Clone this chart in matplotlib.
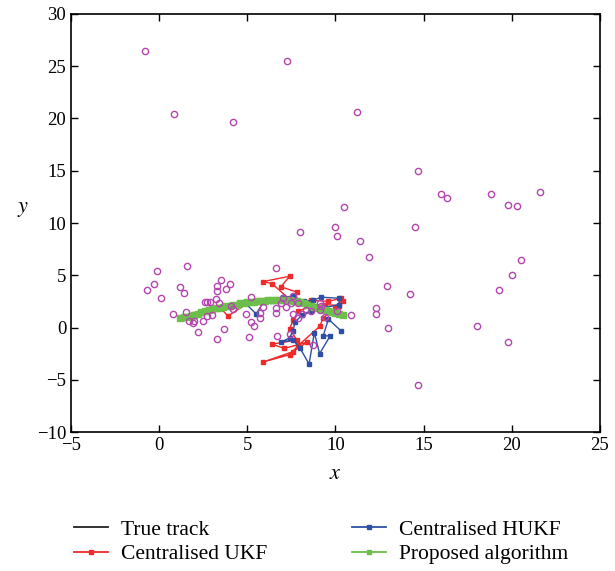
"""
Tracking results with clutter: true track vs. centralised UKF / HUKF
and the proposed algorithm.
"""

import matplotlib

matplotlib.use("Agg")
import matplotlib.pyplot as plt

# Clutter measurements
clutter_x = [-0.8, 0.85, 4.2, 7.25, 11.2, 14.7, 16.0, 16.3, 18.8, 19.8, 20.3, 21.6,
             10.5, 10.0, 10.1, 8.0, 14.5, 11.4, 11.9, 20.5, 20.0, 12.9, 19.3, 14.2,
             12.3, 12.3, 13.0, 10.9, 18.0, 19.8, 14.7, 6.6, 1.6, -0.1, -0.3, -0.7,
             0.1, 1.2, 1.4, 0.8, 1.5, 1.7, 1.9, 2.0, 2.2, 2.5, 2.7, 3.0, 2.6, 2.7,
             2.9, 3.2, 3.4, 3.3, 3.3, 3.5, 3.8, 4.0, 3.7, 3.3, 4.1, 4.2, 4.9, 5.2,
             5.1, 5.2, 5.4, 5.7, 5.7, 5.9, 6.6, 6.6, 7.0, 6.9, 7.2, 7.5, 7.6, 7.6,
             7.9, 7.9, 8.1, 8.3, 8.6, 7.4, 6.7, 8.7, 9.1, 9.2, 9.1, 9.4, 10.1]
clutter_y = [26.5, 20.4, 19.7, 25.5, 20.6, 15.0, 12.8, 12.4, 12.8, 11.7, 11.6, 13.0,
             11.5, 9.6, 8.8, 9.1, 9.6, 8.3, 6.7, 6.5, 5.0, 4.0, 3.6, 3.2,
             1.9, 1.3, 0.0, 1.2, 0.1, -1.4, -5.5, 5.7, 5.9, 5.4, 4.2, 3.6,
             2.8, 3.9, 3.3, 1.3, 1.5, 0.6, 0.4, 0.6, -0.4, 0.6, 1.1, 1.2, 2.4, 2.4,
             2.4, 2.7, 2.3, 4.0, 3.5, 4.5, 3.7, 4.2, -0.1, -1.1, 2.1, 1.8, 1.3, 2.9,
             -0.9, 0.5, 0.1, 0.9, 1.4, 2.0, 1.4, 1.9, 2.8, 2.3, 2.0, 2.3, 3.0, 1.3,
             2.3, 0.9, 1.3, 1.7, 1.6, -0.6, -0.8, -1.7, 1.7, 2.1, 2.3, 1.0, 1.6]

# True target track
true_x = [1.3, 2.0, 2.8, 3.6, 4.4, 5.2, 6.0, 6.8, 7.6, 8.4, 9.1, 9.8, 10.3]
true_y = [0.9, 1.3, 1.7, 2.0, 2.2, 2.4, 2.5, 2.6, 2.5, 2.2, 1.9, 1.5, 1.2]

# Centralised UKF estimate
ukf_x = [1.3, 2.0, 2.7, 3.4, 3.9, 5.0, 6.0, 7.4, 6.4, 5.9, 7.4, 6.9, 7.8, 7.6,
         8.6, 9.6, 10.3, 10.2, 9.4, 8.6, 7.9, 7.6, 7.4, 7.8, 6.4, 7.1, 8.4, 7.6,
         5.9, 7.4, 7.9, 9.1, 9.3, 10.0, 10.4]
ukf_y = [0.9, 1.3, 1.7, 2.0, 1.1, 2.3, 2.6, 2.7, 4.2, 4.4, 4.9, 3.9, 3.4, 2.5,
         2.6, 2.5, 2.8, 2.1, 2.2, 2.0, 1.6, 0.7, -0.1, -1.2, -1.6, -2.0, -1.4, -2.3,
         -3.3, -2.6, -1.7, 0.1, 0.9, 1.9, 2.5]

# Centralised HUKF estimate
hukf_x = [1.3, 1.8, 2.3, 2.9, 3.4, 3.9, 4.4, 4.9, 5.5, 5.9, 6.4, 7.0, 7.6, 8.2,
          8.7, 9.2, 10.2, 10.2, 9.4, 8.6, 8.1, 7.7, 7.6, 7.4, 6.9, 7.6, 8.0, 8.5,
          8.8, 9.1, 9.7, 9.3, 9.6, 10.3]
hukf_y = [0.9, 1.1, 1.4, 1.7, 1.9, 2.1, 2.2, 2.3, 1.3, 2.4, 2.5, 2.9, 3.0, 2.5,
          2.6, 2.9, 2.8, 2.2, 1.9, 1.6, 1.2, 0.5, -0.3, -1.0, -1.4, -1.2, -2.0, -3.5,
          -0.5, -2.5, -0.8, -0.8, 0.8, -0.3]

# Proposed algorithm estimate
prop_x = [1.2, 1.4, 1.6, 1.8, 2.0, 2.2, 2.4, 2.6, 2.8, 3.0, 3.2, 3.4, 3.6, 3.8,
          4.0, 4.2, 4.4, 4.6, 4.8, 5.0, 5.2, 5.4, 5.6, 5.8, 6.0, 6.2, 6.4, 6.6,
          6.8, 7.0, 7.2, 7.4, 7.6, 7.8, 8.0, 8.2, 8.4, 8.6, 8.8, 9.0, 9.2, 9.4,
          9.6, 9.8, 10.0, 10.2, 10.4]
prop_y = [0.9, 1.0, 1.0, 1.1, 1.2, 1.3, 1.5, 1.6, 1.7, 1.8, 1.9, 1.9, 2.0, 2.1,
          2.1, 2.2, 2.2, 2.3, 2.3, 2.4, 2.4, 2.4, 2.5, 2.5, 2.5, 2.6, 2.6, 2.6,
          2.6, 2.6, 2.6, 2.6, 2.5, 2.5, 2.4, 2.3, 2.2, 2.1, 2.0, 1.9, 1.8, 1.7,
          1.6, 1.5, 1.4, 1.3, 1.2]

plt.rcParams["font.family"] = ["Liberation Serif", "DejaVu Serif"]
plt.rcParams["mathtext.fontset"] = "stix"

fig = plt.figure(figsize=(6.15, 5.71), dpi=100)
ax = fig.add_axes([0.1155, 0.2434, 0.86, 0.7321])

ax.plot(clutter_x, clutter_y, "o", mfc="none", mec="#b546b0", mew=1.0, ms=4.5,
        zorder=4)
ax.plot(true_x, true_y, color="#222222", lw=1.2, label="True track", zorder=2)
ax.plot(ukf_x, ukf_y, color="#ee2a2a", lw=1.0, marker="s", ms=3,
        label="Centralised UKF", zorder=3)
ax.plot(hukf_x, hukf_y, color="#2f4fa4", lw=1.0, marker="s", ms=3,
        label="Centralised HUKF", zorder=3)
ax.plot(prop_x, prop_y, color="#6cbf4a", lw=2.5, marker="s", ms=4,
        label="Proposed algorithm", zorder=3)

ax.set_xlim(-5, 25)
ax.set_ylim(-10, 30)
ax.set_xticks(range(-5, 26, 5))
ax.set_yticks(range(-10, 31, 5))
ax.tick_params(direction="in", top=True, right=True, labelsize=13.5, length=5,
               width=1.0)
for sp in ax.spines.values():
    sp.set_linewidth(1.2)

ax.set_xlabel("$x$", fontsize=16, labelpad=8)
ax.set_ylabel("$y$", fontsize=16, rotation=0, labelpad=10)
ax.yaxis.set_label_coords(-0.09, 0.51)

leg = fig.legend(loc="center", bbox_to_anchor=(0.522, 0.051), ncol=2,
                 frameon=False, fontsize=15.5, handlelength=1.6,
                 handletextpad=0.6, columnspacing=3.9, labelspacing=0.2)
for line in leg.get_lines():
    line.set_linewidth(1.3)
    line.set_markersize(2.5)

fig.savefig("out.png", dpi=100)
